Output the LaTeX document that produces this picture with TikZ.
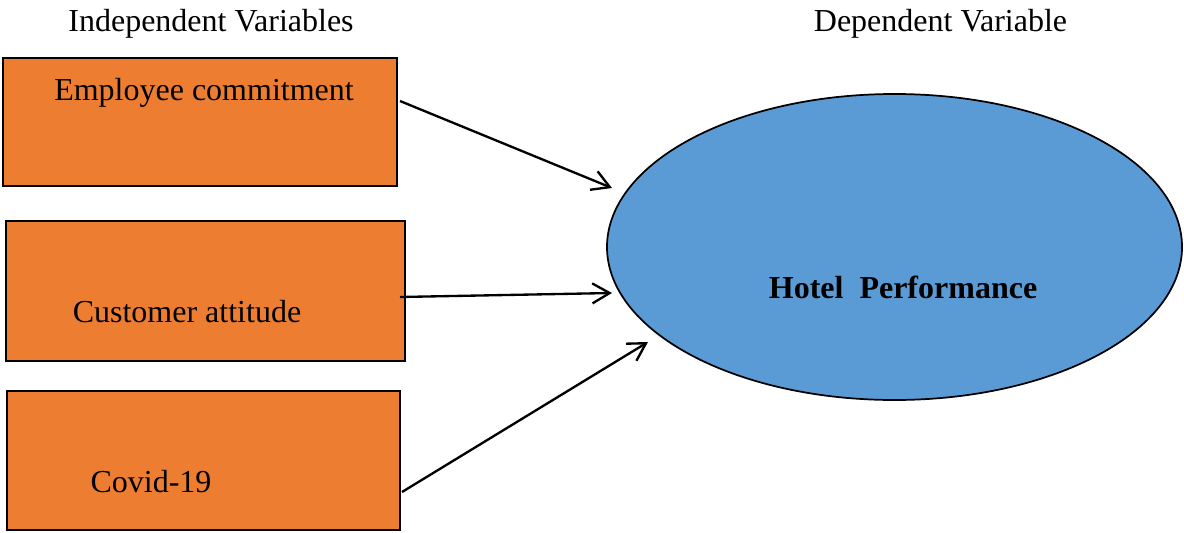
\documentclass[tikz,border=0pt]{standalone}
\usepackage{fontspec}
\setmainfont{Liberation Serif}
\usetikzlibrary{arrows.meta,shapes.geometric}
\definecolor{boxorange}{HTML}{ED7D31}
\definecolor{ellblue}{HTML}{5B9BD5}
\begin{document}
\begin{tikzpicture}[x=0.75pt,y=-0.75pt,
  varbox/.style={draw=black,line width=1.2pt,fill=boxorange,inner sep=0pt,anchor=center},
  depell/.style={draw=black,line width=1.3pt,fill=ellblue,ellipse,inner sep=0pt,
    minimum width=575*0.75pt,minimum height=306*0.75pt},
  lbl/.style={font=\fontsize{24}{28}\selectfont,inner sep=0pt,anchor=base},
  conn/.style={line width=1.75pt,-{Straight Barb[length=13pt,width=15pt,line width=1.75pt]}}]
\useasboundingbox (0,0) rectangle (1184,532);
\node[lbl] (hIV) at (211,31) {Independent Variables};
\node[lbl] (hDV) at (940.5,31) {Dependent Variable};
\node[varbox,minimum width=394*0.75pt,minimum height=128*0.75pt] (b1) at (200,122) {};
\node[varbox,minimum width=399*0.75pt,minimum height=140*0.75pt] (b2) at (205.5,291) {};
\node[varbox,minimum width=393*0.75pt,minimum height=139*0.75pt] (b3) at (203.5,460.5) {};
\node[lbl] (t1) at (204,100) {Employee commitment};
\node[lbl] (t2) at (187,322) {Customer attitude};
\node[lbl] (t3) at (151,492) {Covid-19};
\node[depell] (hp) at (894.5,247) {};
\node[lbl,font=\fontsize{24}{28}\selectfont\bfseries] (hpt) at (903,298) {Hotel\ \ Performance};
\coordinate (s1) at (400,101);
\coordinate (e1) at (612,188);
\coordinate (s2) at (400,297);
\coordinate (e2) at (612,293);
\coordinate (s3) at (402,492);
\coordinate (e3) at (648,342);
\draw[conn] (s1) -- (e1);
\draw[conn] (s2) -- (e2);
\draw[conn] (s3) -- (e3);
\end{tikzpicture}
\end{document}
